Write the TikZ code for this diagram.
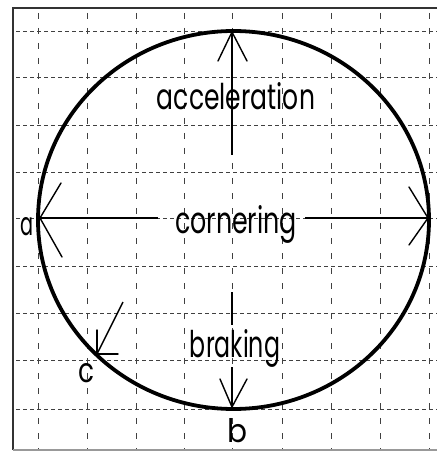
\documentclass[tikz,border=0pt]{standalone}
\usepackage{fontspec}
\usepackage{graphicx}
\usetikzlibrary{calc}
\setmainfont{Poppins}
\begin{document}
\begin{tikzpicture}[x=1pt,y=-1pt,
  gridv/.style={line width=0.9pt,black!75,dash pattern=on 6pt off 9pt},
  gridh/.style={line width=0.9pt,black!75,dash pattern=on 4pt off 3pt},
  shaft/.style={line width=1.4pt},
  thickshaft/.style={line width=2.8pt},
  barb/.style={line width=1.4pt,line cap=round},
  lbl/.style={inner sep=0pt,anchor=base}]
\useasboundingbox (0,0) rectangle (437,454);
% frame
\draw[line width=1.5pt,black!80] (437,8) -- (13,8) -- (13,450);
\draw[line width=1.5pt,black!40] (13,450) -- (437,450);
% grid
\foreach \gx in {38,87,136,184,232,282,331,380,429}
  \draw[gridv] (\gx,13) -- (\gx,449);
\foreach \gy in {31,77,125,172,218,266,313,360,409}
  \draw[gridh] (16,\gy) -- (437,\gy);
% ellipse
\draw[line width=3.8pt] (233.5,220) ellipse [x radius=195.5, y radius=189];
% coordinates
\coordinate (top) at (232,32);
\coordinate (accstart) at (232,155);
\coordinate (a) at (40,218);
\coordinate (cl) at (158,218);
\coordinate (cr) at (305,218);
\coordinate (r) at (428,218);
\coordinate (brstart) at (232,292);
\coordinate (brmid1) at (232,325);
\coordinate (brmid2) at (232,367);
\coordinate (b) at (232,407);
\coordinate (cstart) at (123,302);
\coordinate (c) at (97,354);
% acceleration arrow
\draw[shaft] (accstart) -- (top);
\draw[barb] ($(top)+(-14,29)$) -- (top) -- ($(top)+(15,29)$);
% cornering arrows
\draw[thickshaft] (cl) -- (a);
\draw[thickshaft] (cr) -- (r);
\draw[barb] ($(a)+(21,-35)$) -- (a) -- ($(a)+(22,39)$);
\draw[barb] ($(r)+(-19,-31)$) -- (r) -- ($(r)+(-19,27)$);
% braking arrow
\draw[shaft] (brstart) -- (brmid1);
\draw[shaft] (brmid2) -- (b);
\draw[barb] ($(b)+(-12,-28)$) -- (b) -- ($(b)+(15,-28)$);
% c arrow
\draw[shaft] (cstart) -- (c);
\draw[barb] ($(c)+(0,-24)$) -- (c) -- ($(c)+(21,0)$);
% labels
\node[lbl] (tacc) at (236,110) {\resizebox{158pt}{27pt}{acceleration}};
\node[lbl] (tcor) at (236,233) {\resizebox{122pt}{28pt}{\vphantom{l}cornering}};
\node[lbl] (tbra) at (235,357) {\resizebox{90pt}{28pt}{braking}};
\node[lbl] (la) at (27,235) {\resizebox{13pt}{18pt}{a}};
\node[lbl] (lb) at (237,442) {\resizebox{20pt}{24pt}{b}};
\node[lbl] (lc) at (87,382) {\resizebox{16pt}{19pt}{c}};
\end{tikzpicture}
\end{document}
